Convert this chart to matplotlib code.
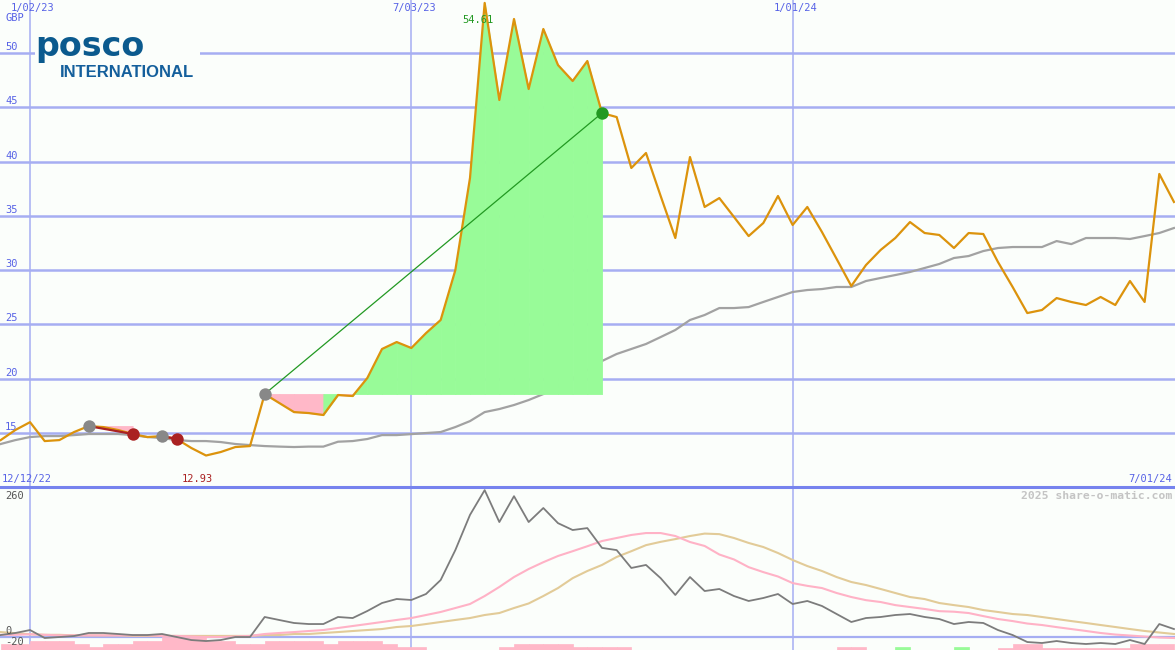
import numpy as np
import pandas as pd
import matplotlib
matplotlib.use('Agg')
from matplotlib import pyplot as plt
from matplotlib.patches import Rectangle
from matplotlib.lines import Line2D

# weekly closes, 19 Dec 2022 .. 1 Jul 2024
weeks = pd.date_range('2022-12-19', periods=81, freq='7D')

price = [14.35, 15.28, 16.0, 14.26, 14.35, 15.09, 15.64, 15.55, 15.28, 14.91,
         14.63, 14.72, 14.45, 13.62, 12.93, 13.25, 13.71, 13.80, 18.59, 17.76,
         16.93, 16.84, 16.66, 18.50, 18.41, 20.07, 22.74, 23.38, 22.83, 24.2,
         25.41, 30.0, 38.49, 54.61, 45.67, 53.13, 46.68, 52.21, 48.89, 47.42,
         49.26, 44.47, 44.1, 39.41, 40.79, 36.83, 32.96, 40.42, 35.82, 36.64,
         34.9, 33.14, 34.34, 36.83, 34.16, 35.82, 33.51, 31.03, 28.54, 30.47,
         31.86, 32.96, 34.43, 33.42, 33.24, 32.04, 33.42, 33.33, 30.75, 28.45,
         26.05, 26.33, 27.43, 27.07, 26.79, 27.53, 26.79, 29.0, 27.07, 38.86,
         36.28]

# moving average (grey line)
ma = [13.99, 14.35, 14.63, 14.72, 14.72, 14.81, 14.91, 14.91, 14.91, 14.81,
      14.63, 14.54, 14.35, 14.26, 14.26, 14.17, 13.99, 13.89, 13.80, 13.75,
      13.71, 13.75, 13.75, 14.2, 14.26, 14.45, 14.81, 14.81, 14.9, 15.0,
      15.09, 15.55, 16.10, 16.93, 17.21, 17.58, 18.04, 18.59, 19.33, 20.07,
      20.80, 21.63, 22.28, 22.74, 23.20, 23.84, 24.49, 25.41, 25.87, 26.51,
      26.51, 26.60, 27.07, 27.53, 27.99, 28.17, 28.26, 28.45, 28.45, 29.00,
      29.28, 29.55, 29.83, 30.20, 30.57, 31.12, 31.30, 31.76, 32.04, 32.13,
      32.13, 32.13, 32.68, 32.40, 32.96, 32.96, 32.96, 32.87, 33.14, 33.42,
      33.88]

# lower panel: momentum and its two averages
mom = [3.6, 7.3, 12.7, -1.8, 0, 1.8, 7.3, 7.3, 5.5, 3.6,
       3.6, 5.5, 0, -5.5, -7.3, -5.5, 0, 0, 36.4, 30.9,
       25.5, 23.6, 23.6, 36.4, 34.5, 47.3, 61.8, 69.1, 67.3, 78.2,
       103.6, 158, 222, 267, 209, 256, 209, 234.5, 207, 194.5,
       198, 162, 158, 125.5, 131, 107, 76.4, 109, 83.6, 87.3,
       74.5, 65.5, 70.9, 78.2, 60, 65.5, 56.4, 41.8, 27.3, 34.5,
       36.4, 40, 41.8, 36.4, 32.7, 23.6, 27.3, 25.5, 12.7, 3.6,
       -9.1, -10.9, -7.3, -10.9, -12.7, -10.9, -12.7, -5.5, -12.7, 23.6,
       14.5]

mom_fast = [4, 4, 5, 4, 3, 3, 3, 3, 3, 3,
            3, 2, 2, 1, 0, 0, 1, 2, 5.5, 7.3,
            9.0, 10.9, 12.7, 16.4, 20, 23.6, 27.3, 31, 34.5, 40,
            45.5, 52.7, 60, 74.5, 91, 109, 123.6, 136, 147.3, 156,
            165, 174.5, 180, 185.5, 189, 189, 183.6, 172.7, 165.5, 150,
            141, 127, 118, 110, 98, 93, 89, 80, 72.7, 67,
            63.6, 58, 54.5, 51, 47, 46, 43.6, 38, 32.7, 29,
            24.5, 21.8, 18, 14.5, 11, 7.3, 4.5, 2.7, 0.9, -0.9,
            -1.8]

mom_slow = [9, 7, 5, 4, 4, 3, 3, 3, 3, 2,
            2, 2, 2, 2, 2, 2, 2, 2, 3.6, 3.6,
            5.5, 5.5, 7.3, 9, 10.9, 12.7, 14.5, 18.2, 20, 23.6,
            27.3, 31, 34.5, 40, 43.6, 52.7, 61, 74.5, 89, 107,
            120, 131, 145.5, 156, 167, 173, 178, 183.6, 188, 187,
            180, 171, 163.6, 152.7, 140, 129, 120, 109, 100, 94.5,
            87.3, 80, 72.7, 69, 61.8, 58, 54.5, 49, 45.5, 41.8,
            40, 36.4, 32.7, 29, 25.5, 21.8, 18.2, 14.5, 11, 8.2,
            5.5]

n = np.nan
bar_val = [-12.7, -12.7, -7.3, -7.3, -7.3, -12.7, -18.2, -12.7, -12.7, -7.3,
           -7.3, 0, 0, 0, -7.3, -7.3, -12.7, -12.7, -7.3, -7.3,
           -7.3, -7.3, -12.7, -7.3, -7.3, -7.3, -12.7, -18.2, -18.2, n,
           n, n, n, n, -18.2, -12.7, -12.7, -12.7, -12.7, -18.2,
           -18.2, -18.2, -18.2, n, n, n, n, n, n, n,
           n, n, n, n, n, n, n, -18.2, -18.2, n,
           n, -18.2, n, n, n, -18.2, n, n, -20, -12.7,
           -12.7, -20, -20, -20, -20, -20, -20, -12.7, -12.7, -12.7,
           n]
bar_up = [61, 65]

# (entry week, exit week)
trades = [(6, 9), (11, 12), (18, 41)]

BG = '#fbfefb'
GRID = '#a6aef2'
BLUE = '#5762e6'
GREEN = '#98fb98'
PINK = '#ffb8c8'
W, H = 1175, 650
MONO = 'DejaVu Sans Mono'

fig = plt.figure(figsize=(W / 100, H / 100), dpi=100, facecolor=BG)
ax = fig.add_axes([0, 163 / H, 1, 487 / H])
ax2 = fig.add_axes([0, 0, 1, 163 / H])
for a in (ax, ax2):
    a.axis('off')
    a.set_xlim(weeks[0] - pd.Timedelta(hours=8), weeks[-1] + pd.Timedelta(hours=12))
ax.set_ylim(10.03, 54.88)
ax2.set_ylim(-23.6, 272.7)

# grid
for v in range(15, 55, 5):
    ax.axhline(v, color=GRID, lw=1.8, zorder=1)
    ax.annotate(str(v), xy=(0, v), xycoords=('axes fraction', 'data'), xytext=(5, 1),
                textcoords='offset pixels', ha='left', va='bottom', color=BLUE,
                fontsize=7.5, family=MONO)
vlines = ['2023-01-02', '2023-07-03', '2024-01-01']
vlabels = ['1/02/23', '7/03/23', '1/01/24']
for d, s in zip(vlines, vlabels):
    ax.axvline(pd.Timestamp(d), color=GRID, lw=1.1, zorder=1)
    ax2.axvline(pd.Timestamp(d), color=GRID, lw=1.1, zorder=1)
    ax.annotate(s, xy=(pd.Timestamp(d), 1), xycoords=('data', 'axes fraction'), xytext=(3, -8),
                textcoords='offset pixels', ha='center', va='center', color=BLUE,
                fontsize=7.5, family=MONO)
fig.text(5 / W, 1 - 18 / H, 'GBP', ha='left', va='center', color=BLUE, fontsize=7.5, family=MONO)

# logo
ax.add_patch(Rectangle((35 / W, 1 - 82 / H), 165 / W, 50 / H, transform=fig.transFigure,
                       facecolor=BG, edgecolor='none', zorder=2, clip_on=False))
fig.text(35 / W, 1 - 56 / H, 'posco', ha='left', va='baseline', color='#0b5a8e',
         fontsize=24, family='DejaVu Sans', weight='bold', zorder=3)
fig.text(60 / W, 1 - 77 / H, 'INTERNATIONAL', ha='left', va='baseline', color='#145f9c',
         fontsize=12, family='Liberation Sans', weight='bold', zorder=3)

# price and average
ax.plot(weeks, ma, color='#a2a2a2', lw=1.6, zorder=2)
ax.plot(weeks, price, color='#dc930c', lw=1.6, zorder=4)

for a, b in trades:
    entry = price[a]
    for i in range(a, b):
        up = price[i + 1] >= price[i] or price[i + 1] > entry
        c = GREEN if up else PINK
        ax.fill_between(weeks[i:i + 2], entry, price[i:i + 2], facecolor=c, edgecolor=c,
                        lw=0.6, zorder=3)
    win = price[b] > entry
    ax.plot([weeks[a], weeks[b]], [entry, price[b]], color='#229922' if win else '#aa2222',
            lw=0.9 if win else 1.6, zorder=5)
    ax.scatter([weeks[a]], [entry], s=80, color='#888888', zorder=6, lw=0)
    ax.scatter([weeks[b]], [price[b]], s=80, color='#229922' if win else '#aa2222', zorder=6, lw=0)

hi = int(np.argmax(price))
lo = int(np.argmin(price))
ax.annotate(f'{price[hi]:.2f}', xy=(weeks[hi], price[hi]), xytext=(-7, -17),
            textcoords='offset pixels', ha='center', va='center', color='#229922',
            fontsize=7.5, family=MONO, zorder=7)
ax.annotate(f'{price[lo]:.2f}', xy=(weeks[lo], price[lo]), xytext=(-9, -23),
            textcoords='offset pixels', ha='center', va='center', color='#aa2222',
            fontsize=7.5, family=MONO, zorder=7)
fig.text(2 / W, 1 - 479 / H, '12/12/22', ha='left', va='center', color=BLUE, fontsize=7.5, family=MONO)
fig.text(1172 / W, 1 - 479 / H, '7/01/24', ha='right', va='center', color=BLUE, fontsize=7.5, family=MONO)

# separator
fig.add_artist(Line2D([0, 1], [163 / H, 163 / H], transform=fig.transFigure, color='#7683ee', lw=2.2))

# lower panel
ax2.axhline(0, color=GRID, lw=1.6, zorder=1)
bottom = ax2.get_ylim()[0]
for i, v in enumerate(bar_val):
    if np.isnan(v):
        continue
    c = GREEN if i in bar_up else PINK
    ax2.bar(weeks[i], v - bottom, bottom=bottom, width=7, align='edge',
            facecolor=c, edgecolor=c, lw=0.5, zorder=2)
ax2.plot(weeks, mom_slow, color='#e2cb98', lw=1.5, zorder=3)
ax2.plot(weeks, mom_fast, color='#ffb2c6', lw=1.5, zorder=4)
ax2.plot(weeks, mom, color='#7c7c7c', lw=1.3, zorder=5)

fig.text(5 / W, 1 - 496 / H, '260', ha='left', va='center', color='#555555', fontsize=7.5, family=MONO)
fig.text(5 / W, 1 - 631 / H, '0', ha='left', va='center', color='#555555', fontsize=7.5, family=MONO)
fig.text(5 / W, 1 - 642 / H, '-20', ha='left', va='center', color='#555555', fontsize=7.5, family=MONO)
fig.text(1172 / W, 1 - 496 / H, '2025 share-o-matic.com', ha='right', va='center',
         color='#c4c4c4', fontsize=8.2, family=MONO, weight='bold')

fig.savefig('out.png', dpi=100, facecolor=BG)
